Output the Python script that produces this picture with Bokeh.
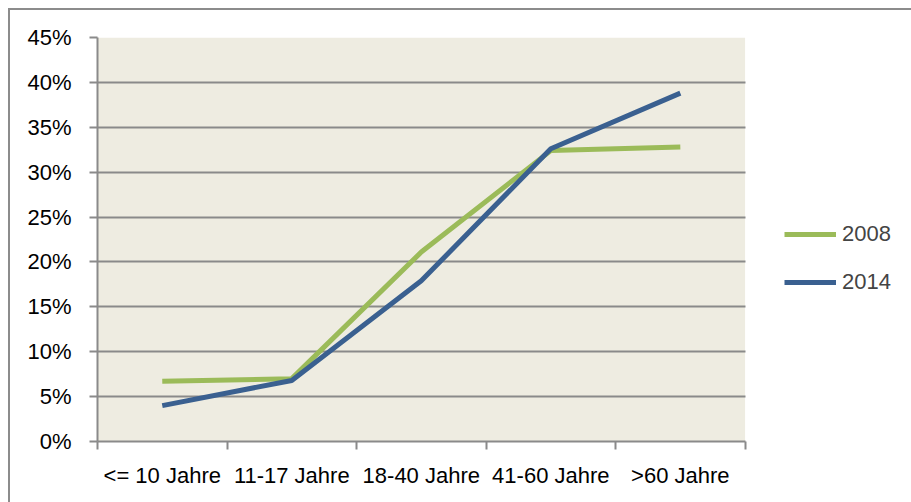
from bokeh.plotting import figure
from bokeh.models import (Range1d, FixedTicker, NumeralTickFormatter, Legend, LegendItem,
                          ColumnDataSource)
from bokeh.embed import file_html
from bokeh.resources import INLINE

categories = ["<= 10 Jahre", "11-17 Jahre", "18-40 Jahre", "41-60 Jahre", ">60 Jahre"]
values_2008 = [0.067, 0.070, 0.211, 0.324, 0.328]
values_2014 = [0.040, 0.068, 0.179, 0.326, 0.388]
y_ticks = [0.0, 0.05, 0.10, 0.15, 0.20, 0.25, 0.30, 0.35, 0.40, 0.45]

n = len(categories)
y_max = y_ticks[-1]
xs = [i + 0.5 for i in range(n)]
src = ColumnDataSource(dict(x=xs, y08=values_2008, y14=values_2014))

FONT = "Liberation Sans"
GRID = "#8a8a8a"
GREEN = "#9BBB59"
BLUE = "#3A6090"

# frame: ~129 px per category; extends to the right to hold the legend
p = figure(width=903, height=494, output_backend="svg", toolbar_location=None,
           x_range=Range1d(0, 814 / 129.2), y_range=Range1d(0, y_max),
           min_border_left=87, min_border_right=0, min_border_top=27, min_border_bottom=63,
           styles={"margin-left": "8px", "margin-top": "8px",
                   "border-left": "2px solid #8c8c8c", "border-top": "2px solid #8c8c8c"})
p.background_fill_color = "white"
p.border_fill_color = "white"
p.outline_line_color = None

# plot-area background
p.quad(left=[0], right=[n], bottom=[0], top=[y_max], fill_color="#EEECE1",
       line_color=None, level="image")

p.xgrid.visible = False
p.ygrid.ticker = FixedTicker(ticks=y_ticks)
p.ygrid.grid_line_color = GRID
p.ygrid.grid_line_width = 2
p.ygrid.cross_bounds = (0, n)

yax = p.yaxis[0]
yax.ticker = FixedTicker(ticks=y_ticks)
yax.formatter = NumeralTickFormatter(format="0%")
yax.axis_line_color = GRID
yax.axis_line_width = 2
yax.major_tick_line_color = GRID
yax.major_tick_line_width = 2
yax.major_tick_out = 8
yax.major_tick_in = 0
yax.minor_tick_line_color = None
yax.major_label_text_font = FONT
yax.major_label_text_font_size = "22px"
yax.major_label_text_color = "black"
yax.major_label_standoff = 18

xax = p.xaxis[0]
xax.bounds = (0, n)
xax.ticker = FixedTicker(ticks=xs, minor_ticks=list(range(n + 1)))
xax.major_label_overrides = {x: c for x, c in zip(xs, categories)}
xax.axis_line_color = GRID
xax.axis_line_width = 2
xax.major_tick_line_color = None
xax.major_tick_out = 0
xax.major_tick_in = 0
xax.minor_tick_line_color = GRID
xax.minor_tick_line_width = 2
xax.minor_tick_out = 8
xax.minor_tick_in = 0
xax.major_label_text_font = FONT
xax.major_label_text_font_size = "22px"
xax.major_label_text_color = "black"
xax.major_label_standoff = 13

r08 = p.line("x", "y08", source=src, line_color=GREEN, line_width=5)
r14 = p.line("x", "y14", source=src, line_color=BLUE, line_width=5)

legend = Legend(items=[LegendItem(label="2008", renderers=[r08]),
                       LegendItem(label="2014", renderers=[r14])],
                location=(687, 144), padding=0, margin=0, spacing=18,
                glyph_width=52, glyph_height=30, label_standoff=6,
                label_text_font=FONT, label_text_font_size="22px",
                border_line_color=None, background_fill_alpha=0)
p.add_layout(legend, "center")

open("out.html", "w").write(file_html(p, INLINE))
